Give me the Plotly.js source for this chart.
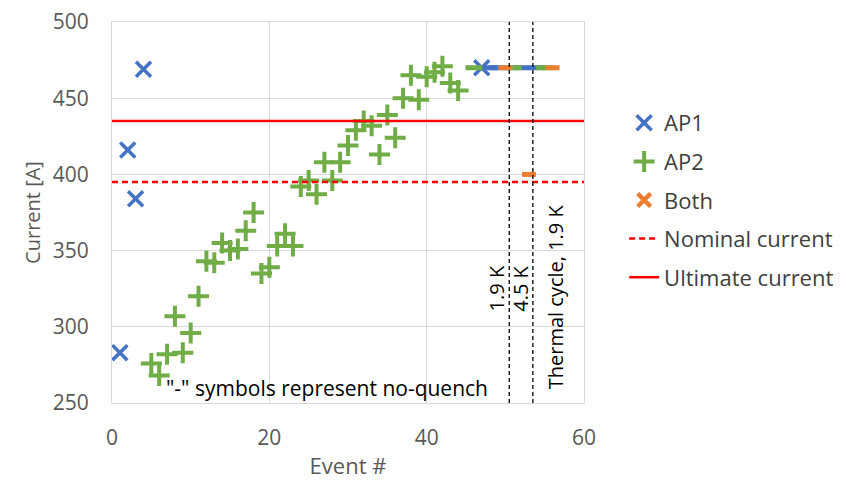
<!DOCTYPE html>
<html>
<head>
<meta charset="utf-8">
<script src="https://cdn.plot.ly/plotly-3.0.1.min.js"></script>
<style>html,body{margin:0;padding:0;background:#fff;}#chart{width:853px;height:485px;}</style>
</head>
<body>
<div id="chart"></div>
<script>
// Quench events
const ap1Events = [1, 2, 3, 4, 47];
const ap1Current = [283, 416, 384, 469, 470];
const ap2Events = [5, 6, 7, 8, 9, 10, 11, 12, 13, 14, 15, 16, 17, 18, 19, 20, 21, 22, 23, 24,
                   25, 26, 27, 28, 29, 30, 31, 32, 33, 34, 35, 36, 37, 38, 39, 40, 41, 42, 43, 44];
const ap2Current = [276, 268, 282, 307, 283, 296, 320, 343, 342, 355, 350, 351, 363, 375, 335, 339, 353, 361, 353, 392,
                    396, 387, 408, 396, 408, 419, 429, 435, 432, 413, 439, 424, 450, 465, 449, 464, 467, 471, 460, 455];
// No-quench events ("-" symbols)
const ap1NoQuenchEvents = [48, 49, 52, 54];
const ap1NoQuenchCurrent = [470, 470, 470, 470];
const ap2NoQuenchEvents = [46, 51, 55];
const ap2NoQuenchCurrent = [470, 470, 470];
const bothNoQuenchEvents = [50, 56, 53];
const bothNoQuenchCurrent = [470, 470, 400];
// Reference currents
const nominalCurrent = 395;
const ultimateCurrent = 435;
const xRange = [0, 60];
// Phase boundaries
const phaseBoundaries = [50.5, 53.5];
const phaseLabels = ["1.9 K", "4.5 K", "Thermal cycle, 1.9 K"];

const BLUE = '#4472C4', GREEN = '#70AD47', ORANGE = '#ED7D31', RED = '#FF0000';
const FONT = 'Open Sans, sans-serif';

const traces = [
  {x: ap1Events, y: ap1Current, name: 'AP1', type: 'scatter', mode: 'markers', legendgroup: 'a',
   marker: {symbol: 'x-thin', size: 15, color: BLUE, line: {color: BLUE, width: 3.5}}},
  {x: ap2Events, y: ap2Current, name: 'AP2', type: 'scatter', mode: 'markers', legendgroup: 'b',
   marker: {symbol: 'cross-thin', size: 15, color: GREEN, line: {color: GREEN, width: 4}}},
  {x: [null], y: [null], name: 'Both', type: 'scatter', mode: 'markers', legendgroup: 'c',
   marker: {symbol: 'x-thin', size: 13, color: ORANGE, line: {color: ORANGE, width: 4.5}}},
  {x: xRange, y: [nominalCurrent, nominalCurrent], name: 'Nominal current', type: 'scatter', mode: 'lines', legendgroup: 'd',
   line: {color: RED, width: 2.5, dash: '6px,4px'}},
  {x: xRange, y: [ultimateCurrent, ultimateCurrent], name: 'Ultimate current', type: 'scatter', mode: 'lines', legendgroup: 'e',
   line: {color: RED, width: 2.5}},
  {x: ap1NoQuenchEvents, y: ap1NoQuenchCurrent, type: 'scatter', mode: 'markers', showlegend: false,
   marker: {symbol: 'line-ew', size: 12, color: BLUE, line: {color: BLUE, width: 5}}},
  {x: ap2NoQuenchEvents, y: ap2NoQuenchCurrent, type: 'scatter', mode: 'markers', showlegend: false,
   marker: {symbol: 'line-ew', size: 12, color: GREEN, line: {color: GREEN, width: 5}}},
  {x: bothNoQuenchEvents, y: bothNoQuenchCurrent, type: 'scatter', mode: 'markers', showlegend: false,
   marker: {symbol: 'line-ew', size: 10, color: ORANGE, line: {color: ORANGE, width: 5}}}
];

const shapes = phaseBoundaries.map(b => ({
  type: 'line', xref: 'x', yref: 'paper', x0: b, x1: b, y0: 0, y1: 1,
  line: {color: '#000', width: 1.3, dash: '4px,3px'}
}));

const labelPos = [[48.9, 325], [52.0, 325], [56.3, 320]];
const annotations = phaseLabels.map((t, i) => ({
  text: t, x: labelPos[i][0], y: labelPos[i][1], xref: 'x', yref: 'y', showarrow: false,
  textangle: -90, font: {family: FONT, size: 20, color: '#000'}, xanchor: 'center', yanchor: 'middle'
}));
annotations.push({
  text: '"-" symbols represent no-quench', x: 27.3, y: 260, xref: 'x', yref: 'y', showarrow: false,
  font: {family: FONT, size: 21, color: '#000'}, xanchor: 'center', yanchor: 'middle'
});

const layout = {
  width: 853, height: 485,
  margin: {l: 112, r: 269, t: 22, b: 82},
  paper_bgcolor: '#fff', plot_bgcolor: '#fff',
  font: {family: FONT, color: '#595959'},
  xaxis: {
    range: xRange, dtick: 20, tick0: 0, showgrid: true, gridcolor: '#D9D9D9', gridwidth: 1,
    zeroline: false, showline: true, mirror: true, linecolor: '#D9D9D9', linewidth: 1,
    ticks: '', ticklabelstandoff: 16,
    tickfont: {family: FONT, size: 21, color: '#595959'},
    title: {text: 'Event #', font: {family: FONT, size: 22, color: '#595959'}, standoff: 8}
  },
  yaxis: {
    range: [250, 500], dtick: 50, tick0: 250, showgrid: true, gridcolor: '#D9D9D9', gridwidth: 1,
    zeroline: false, showline: true, mirror: true, linecolor: '#D9D9D9', linewidth: 1,
    ticks: '', ticklabelstandoff: 18,
    tickfont: {family: FONT, size: 21, color: '#595959'},
    title: {text: 'Current [A]', font: {family: FONT, size: 20, color: '#595959'}, standoff: 6}
  },
  showlegend: true,
  legend: {
    x: 1.085, y: 0.79, xanchor: 'left', yanchor: 'top',
    traceorder: 'grouped', tracegroupgap: 7,
    font: {family: FONT, size: 22, color: '#404040'},
    bgcolor: 'rgba(0,0,0,0)'
  },
  shapes: shapes,
  annotations: annotations
};

Plotly.newPlot('chart', traces, layout, {displayModeBar: false, staticPlot: true});
</script>
</body>
</html>
